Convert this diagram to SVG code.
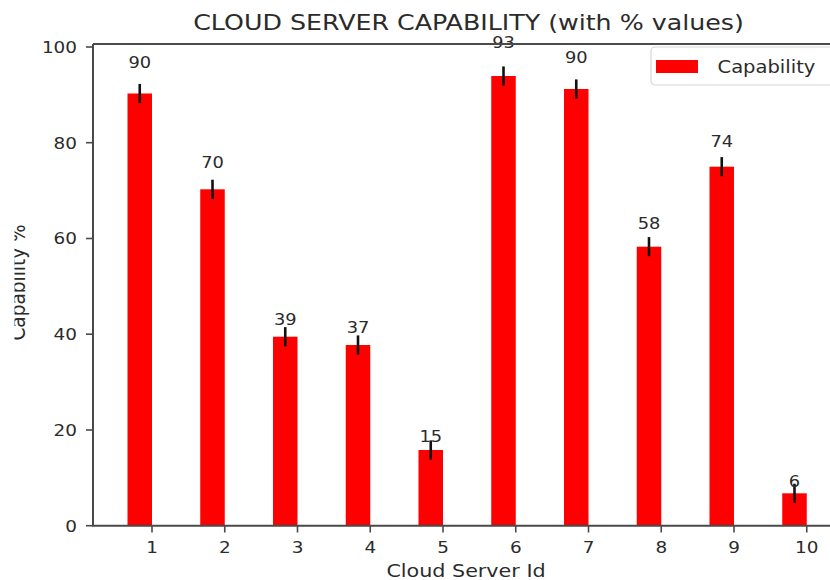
<svg xmlns="http://www.w3.org/2000/svg" width="830" height="580" viewBox="0 0 830 580">
  <defs>
    <style>
      .t { font-family: "DejaVu Sans", "Liberation Sans", sans-serif; fill: #2b2b2b; }
      .title { font-size: 22px; }
      .tick { font-size: 16px; }
      .axlab { font-size: 18px; }
      .val { font-size: 15.5px; }
      .leg { font-size: 17px; }
      .bar { fill: #ff0000; }
      .err { stroke: #111; stroke-width: 2.6; }
      .spine { stroke: #4a4a4a; stroke-width: 2; fill: none; }
      .tk { stroke: #4a4a4a; stroke-width: 1.6; }
    </style>
    <clipPath id="ylabClip">
      <rect x="14.5" y="0" width="60" height="580"/>
    </clipPath>
  </defs>
  <rect width="830" height="580" fill="#ffffff"/>

  <!-- title -->
  <text class="t title" text-anchor="middle" transform="translate(468.5,30) scale(1.15,1)">CLOUD SERVER CAPABILITY (with % values)</text>

  <!-- bars with error bars and value labels -->
  <g id="bars">
    <g id="bar1"><rect class="bar" x="127.5" y="93.5" width="24.5" height="432.2"/><line class="err" x1="139.75" y1="83.9" x2="139.75" y2="103.1"/><text class="t val" text-anchor="middle" transform="translate(139.75,68.3) scale(1.15,1)">90</text></g>
    <g id="bar2"><rect class="bar" x="200.25" y="189.3" width="24.5" height="336.4"/><line class="err" x1="212.5" y1="179.7" x2="212.5" y2="198.9"/><text class="t val" text-anchor="middle" transform="translate(212.5,168.3) scale(1.15,1)">70</text></g>
    <g id="bar3"><rect class="bar" x="273" y="336.7" width="24.5" height="189"/><line class="err" x1="285.25" y1="327.1" x2="285.25" y2="346.3"/><text class="t val" text-anchor="middle" transform="translate(285.25,325) scale(1.15,1)">39</text></g>
    <g id="bar4"><rect class="bar" x="345.75" y="345" width="24.5" height="180.7"/><line class="err" x1="358" y1="335.4" x2="358" y2="354.6"/><text class="t val" text-anchor="middle" transform="translate(358,333.3) scale(1.15,1)">37</text></g>
    <g id="bar5"><rect class="bar" x="418.5" y="450" width="24.5" height="75.7"/><line class="err" x1="430.75" y1="440.4" x2="430.75" y2="459.6"/><text class="t val" text-anchor="middle" transform="translate(430.75,441.7) scale(1.15,1)">15</text></g>
    <g id="bar6"><rect class="bar" x="491.25" y="76" width="24.5" height="449.7"/><line class="err" x1="503.5" y1="66.4" x2="503.5" y2="85.6"/><text class="t val" text-anchor="middle" transform="translate(503.5,48.3) scale(1.15,1)">93</text></g>
    <g id="bar7"><rect class="bar" x="564" y="89" width="24.5" height="436.7"/><line class="err" x1="576.25" y1="79.4" x2="576.25" y2="98.6"/><text class="t val" text-anchor="middle" transform="translate(576.25,63.3) scale(1.15,1)">90</text></g>
    <g id="bar8"><rect class="bar" x="636.75" y="246.7" width="24.5" height="279"/><line class="err" x1="649" y1="237.1" x2="649" y2="256.3"/><text class="t val" text-anchor="middle" transform="translate(649,229.3) scale(1.15,1)">58</text></g>
    <g id="bar9"><rect class="bar" x="709.5" y="166.7" width="24.5" height="359"/><line class="err" x1="721.75" y1="157.1" x2="721.75" y2="176.3"/><text class="t val" text-anchor="middle" transform="translate(721.75,146.7) scale(1.15,1)">74</text></g>
    <g id="bar10"><rect class="bar" x="782.25" y="493.3" width="24.5" height="32.4"/><line class="err" x1="794.5" y1="483.7" x2="794.5" y2="502.9"/><text class="t val" text-anchor="middle" transform="translate(794.5,487.3) scale(1.15,1)">6</text></g>
  </g>

  <!-- axes frame -->
  <g id="axes">
    <path class="spine" d="M93,44 H832 M93,44 V525.7 H832"/>
    <!-- y ticks -->
    <g class="tk">
      <line x1="86" y1="525.7" x2="93" y2="525.7"/>
      <line x1="86" y1="430" x2="93" y2="430"/>
      <line x1="86" y1="334.2" x2="93" y2="334.2"/>
      <line x1="86" y1="238.5" x2="93" y2="238.5"/>
      <line x1="86" y1="142.7" x2="93" y2="142.7"/>
      <line x1="86" y1="47" x2="93" y2="47"/>
    </g>
    <g class="t tick" text-anchor="end">
      <text transform="translate(77,531.5) scale(1.15,1)">0</text>
      <text transform="translate(77,435.8) scale(1.15,1)">20</text>
      <text transform="translate(77,340) scale(1.15,1)">40</text>
      <text transform="translate(77,244.3) scale(1.15,1)">60</text>
      <text transform="translate(77,148.5) scale(1.15,1)">80</text>
      <text transform="translate(77,52.8) scale(1.15,1)">100</text>
    </g>
    <!-- x ticks -->
    <g class="tk">
      <line x1="152" y1="525.7" x2="152" y2="532.5"/>
      <line x1="224.75" y1="525.7" x2="224.75" y2="532.5"/>
      <line x1="297.5" y1="525.7" x2="297.5" y2="532.5"/>
      <line x1="370.25" y1="525.7" x2="370.25" y2="532.5"/>
      <line x1="443" y1="525.7" x2="443" y2="532.5"/>
      <line x1="515.75" y1="525.7" x2="515.75" y2="532.5"/>
      <line x1="588.5" y1="525.7" x2="588.5" y2="532.5"/>
      <line x1="661.25" y1="525.7" x2="661.25" y2="532.5"/>
      <line x1="734" y1="525.7" x2="734" y2="532.5"/>
      <line x1="806.75" y1="525.7" x2="806.75" y2="532.5"/>
    </g>
    <g class="t tick" text-anchor="middle">
      <text transform="translate(152,553) scale(1.15,1)">1</text>
      <text transform="translate(224.75,553) scale(1.15,1)">2</text>
      <text transform="translate(297.5,553) scale(1.15,1)">3</text>
      <text transform="translate(370.25,553) scale(1.15,1)">4</text>
      <text transform="translate(443,553) scale(1.15,1)">5</text>
      <text transform="translate(515.75,553) scale(1.15,1)">6</text>
      <text transform="translate(588.5,553) scale(1.15,1)">7</text>
      <text transform="translate(661.25,553) scale(1.15,1)">8</text>
      <text transform="translate(734,553) scale(1.15,1)">9</text>
      <text transform="translate(806.75,553) scale(1.15,1)">10</text>
    </g>
  </g>

  <!-- axis labels -->
  <text class="t axlab" text-anchor="middle" transform="translate(466,576.5) scale(1.15,1)">Cloud Server Id</text>
  <g clip-path="url(#ylabClip)">
    <text class="t axlab" text-anchor="middle" transform="translate(25,282.5) scale(1.15,1) rotate(-90)" style="font-size:18.5px">Capability %</text>
  </g>

  <!-- legend -->
  <g id="legend">
    <rect x="651" y="47" width="200" height="38" rx="4" fill="#ffffff" fill-opacity="0.8" stroke="#d6d6d6" stroke-width="1.2"/>
    <rect x="656" y="60" width="42" height="13" fill="#ff0000"/>
    <text class="t leg" transform="translate(717.5,72.5) scale(1.15,1)">Capability</text>
  </g>
</svg>
